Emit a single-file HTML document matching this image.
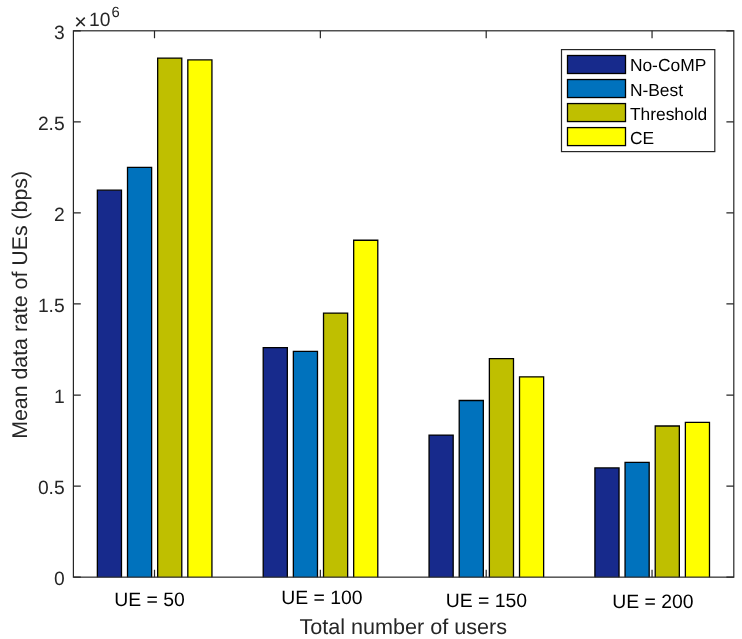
<!DOCTYPE html>
<html lang="en"><head><meta charset="utf-8"><title>Mean data rate of UEs</title>
<style>html,body{margin:0;padding:0;background:#fff}body{width:742px;height:639px;overflow:hidden}svg{display:block;will-change:transform;-webkit-font-smoothing:antialiased}text{text-rendering:geometricPrecision}</style>
</head><body>
<svg width="742" height="639" viewBox="0 0 742 639" font-family="'Liberation Sans', Arial, Helvetica, sans-serif" fill="#262626">
<rect x="0" y="0" width="742" height="639" fill="#ffffff"/>
<path d="M97.36 577.15V190.15H121.48V577.15" fill="#172a8c" stroke="#000" stroke-width="1.3" stroke-linejoin="miter"/>
<path d="M127.51 577.15V167.39H151.63V577.15" fill="#0072bd" stroke="#000" stroke-width="1.3" stroke-linejoin="miter"/>
<path d="M157.67 577.15V58.12H181.79V577.15" fill="#bfbf00" stroke="#000" stroke-width="1.3" stroke-linejoin="miter"/>
<path d="M187.82 577.15V59.94H211.94V577.15" fill="#ffff00" stroke="#000" stroke-width="1.3" stroke-linejoin="miter"/>
<path d="M263.21 577.15V347.68H287.33V577.15" fill="#172a8c" stroke="#000" stroke-width="1.3" stroke-linejoin="miter"/>
<path d="M293.36 577.15V351.33H317.48V577.15" fill="#0072bd" stroke="#000" stroke-width="1.3" stroke-linejoin="miter"/>
<path d="M323.52 577.15V313.08H347.64V577.15" fill="#bfbf00" stroke="#000" stroke-width="1.3" stroke-linejoin="miter"/>
<path d="M353.67 577.15V240.23H377.79V577.15" fill="#ffff00" stroke="#000" stroke-width="1.3" stroke-linejoin="miter"/>
<path d="M429.06 577.15V435.10H453.18V577.15" fill="#172a8c" stroke="#000" stroke-width="1.3" stroke-linejoin="miter"/>
<path d="M459.21 577.15V400.50H483.33V577.15" fill="#0072bd" stroke="#000" stroke-width="1.3" stroke-linejoin="miter"/>
<path d="M489.37 577.15V358.61H513.49V577.15" fill="#bfbf00" stroke="#000" stroke-width="1.3" stroke-linejoin="miter"/>
<path d="M519.52 577.15V376.82H543.64V577.15" fill="#ffff00" stroke="#000" stroke-width="1.3" stroke-linejoin="miter"/>
<path d="M594.91 577.15V467.88H619.03V577.15" fill="#172a8c" stroke="#000" stroke-width="1.3" stroke-linejoin="miter"/>
<path d="M625.06 577.15V462.42H649.18V577.15" fill="#0072bd" stroke="#000" stroke-width="1.3" stroke-linejoin="miter"/>
<path d="M655.22 577.15V425.99H679.34V577.15" fill="#bfbf00" stroke="#000" stroke-width="1.3" stroke-linejoin="miter"/>
<path d="M685.37 577.15V422.35H709.49V577.15" fill="#ffff00" stroke="#000" stroke-width="1.3" stroke-linejoin="miter"/>
<rect x="73.4" y="30.8" width="660.40" height="546.35" fill="none" stroke="#262626" stroke-width="1.2"/>
<path d="M154.50 577.15V569.75M154.50 30.8V38.2M320.35 577.15V569.75M320.35 30.8V38.2M486.20 577.15V569.75M486.20 30.8V38.2M652.05 577.15V569.75M652.05 30.8V38.2M73.4 577.15H80.80000000000001M733.8 577.15H726.4M73.4 486.09H80.80000000000001M733.8 486.09H726.4M73.4 395.03H80.80000000000001M733.8 395.03H726.4M73.4 303.97H80.80000000000001M733.8 303.97H726.4M73.4 212.92H80.80000000000001M733.8 212.92H726.4M73.4 121.86H80.80000000000001M733.8 121.86H726.4M73.4 30.80H80.80000000000001M733.8 30.80H726.4" stroke="#262626" stroke-width="1.2" fill="none"/>
<text x="64.70" y="585.45" font-size="19.3" text-anchor="end">0</text>
<text x="64.70" y="494.39" font-size="19.3" text-anchor="end">0.5</text>
<text x="64.70" y="403.33" font-size="19.3" text-anchor="end">1</text>
<text x="64.70" y="312.27" font-size="19.3" text-anchor="end">1.5</text>
<text x="64.70" y="221.22" font-size="19.3" text-anchor="end">2</text>
<text x="64.70" y="130.16" font-size="19.3" text-anchor="end">2.5</text>
<text x="64.70" y="39.10" font-size="19.3" text-anchor="end">3</text>
<text x="149.5" y="605.6" font-size="19.4" fill="#000" text-anchor="middle">UE = 50</text>
<text x="321.9" y="603.6" font-size="19.4" fill="#000" text-anchor="middle">UE = 100</text>
<text x="486.4" y="606.8" font-size="19.4" fill="#000" text-anchor="middle">UE = 150</text>
<text x="652.9" y="607.6" font-size="19.4" fill="#000" text-anchor="middle">UE = 200</text>
<text x="74.3" y="28.6" font-size="21.5">×</text>
<text x="89.0" y="26.2" font-size="19.3">10</text>
<text x="111.5" y="17.45" font-size="14.8">6</text>
<text x="403.25" y="633.9" font-size="21.6" text-anchor="middle">Total number of users</text>
<text transform="translate(26.5 304.85) rotate(-90)" font-size="21.33" text-anchor="middle">Mean data rate of UEs (bps)</text>
<rect x="561.5" y="49.6" width="153.3" height="102" fill="#fff" stroke="#262626" stroke-width="1.2"/>
<rect x="567.5" y="55.50" width="58" height="18" fill="#172a8c" stroke="#000" stroke-width="1.3"/>
<text x="629.9" y="71.40" font-size="17.4" fill="#000">No-CoMP</text>
<rect x="567.5" y="79.53" width="58" height="18" fill="#0072bd" stroke="#000" stroke-width="1.3"/>
<text x="629.9" y="95.70" font-size="17.4" fill="#000">N-Best</text>
<rect x="567.5" y="103.56" width="58" height="18" fill="#bfbf00" stroke="#000" stroke-width="1.3"/>
<text x="629.9" y="120.00" font-size="17.4" fill="#000">Threshold</text>
<rect x="567.5" y="127.59" width="58" height="18" fill="#ffff00" stroke="#000" stroke-width="1.3"/>
<text x="629.9" y="144.30" font-size="17.4" fill="#000">CE</text>
</svg>
</body></html>
